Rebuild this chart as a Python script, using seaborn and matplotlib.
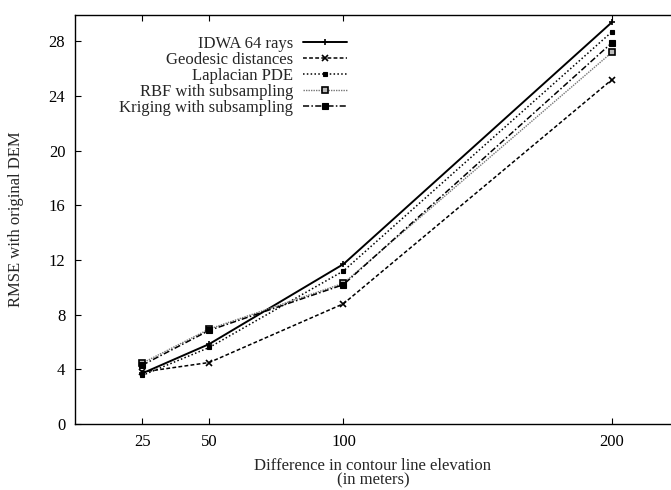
import matplotlib
matplotlib.use("Agg")
import matplotlib.pyplot as plt
import seaborn as sns
import pandas as pd

x_vals = [25, 50, 100, 200]
series_names = ["IDWA 64 rays", "Geodesic distances", "Laplacian PDE",
                "RBF with subsampling", "Kriging with subsampling"]
idwa = [3.7, 5.85, 11.7, 29.4]
geodesic = [3.8, 4.5, 8.8, 25.2]
laplacian = [3.55, 5.6, 11.2, 28.7]
rbf = [4.45, 6.95, 10.3, 27.2]
kriging = [4.3, 6.85, 10.2, 27.9]
y_ticks = [0, 4, 8, 12, 16, 20, 24, 28]

sns.set_style("ticks")
plt.rcParams['font.family'] = ['Liberation Serif', 'DejaVu Serif']
plt.rcParams['font.size'] = 12

rows = []
for name, vals in zip(series_names, [idwa, geodesic, laplacian, rbf, kriging]):
    for xv, yv in zip(x_vals, vals):
        rows.append({"x": xv, "y": yv, "series": name})
df = pd.DataFrame(rows)

styles = {
    "IDWA 64 rays": dict(color="black", ls="-", lw=1.4, marker="+", ms=4, mew=1.2, mfc="black"),
    "Geodesic distances": dict(color="black", ls=(0, (2.5, 1.5)), lw=1.1, marker="x", ms=4, mew=1.2, mfc="black"),
    "Laplacian PDE": dict(color="black", ls=(0, (1, 1.5)), lw=1.1, marker="s", ms=3.5, mew=0.8, mfc="black"),
    "RBF with subsampling": dict(color="#777777", ls=(0, (1, 0.8)), lw=1.0, marker="s", ms=4.5, mew=1.2, mfc="#bbbbbb", mec="black"),
    "Kriging with subsampling": dict(color="black", ls=(0, (4, 1.5, 1, 1.5)), lw=1.1, marker="s", ms=4.5, mew=0.8, mfc="black"),
}

fig = plt.figure(figsize=(6.71, 4.90), dpi=100)
ax = fig.add_axes([75/671, 1-424/490, 1-75/671, (424-14.7)/490])

for name in series_names:
    st = dict(styles[name])
    sub = df[df["series"] == name]
    sns.lineplot(data=sub, x="x", y="y", ax=ax, label=name,
                 color=st.pop("color"), linestyle=st.pop("ls"), linewidth=st.pop("lw"),
                 marker=st.pop("marker"), markersize=st.pop("ms"),
                 markeredgewidth=st.pop("mew"), markerfacecolor=st.pop("mfc"),
                 markeredgecolor=st.pop("mec", "black"))

ax.set_xlim(0, 222)
ax.set_ylim(0, 29.95)
ax.set_xticks(x_vals)
ax.set_yticks(y_ticks)
ax.tick_params(direction="in", length=4, width=0.8, top=True, right=False, labelsize=12, colors="black", pad=7)
for s in ["left", "bottom", "top"]:
    ax.spines[s].set_visible(True)
    ax.spines[s].set_linewidth(1.0)
    ax.spines[s].set_color("black")
ax.spines["right"].set_visible(False)

ax.set_xlabel("Difference in contour line elevation\n(in meters)", fontsize=12, labelpad=6, linespacing=0.85)
ax.set_ylabel("RMSE with original DEM", fontsize=12, labelpad=18)

leg = ax.legend(loc="upper right", bbox_to_anchor=(0.456, 0.948), frameon=False,
                markerfirst=False, handlelength=2.6, labelspacing=0.0,
                fontsize=12, handletextpad=0.6, borderpad=0, borderaxespad=0)

fig.savefig("out.png", dpi=100)
